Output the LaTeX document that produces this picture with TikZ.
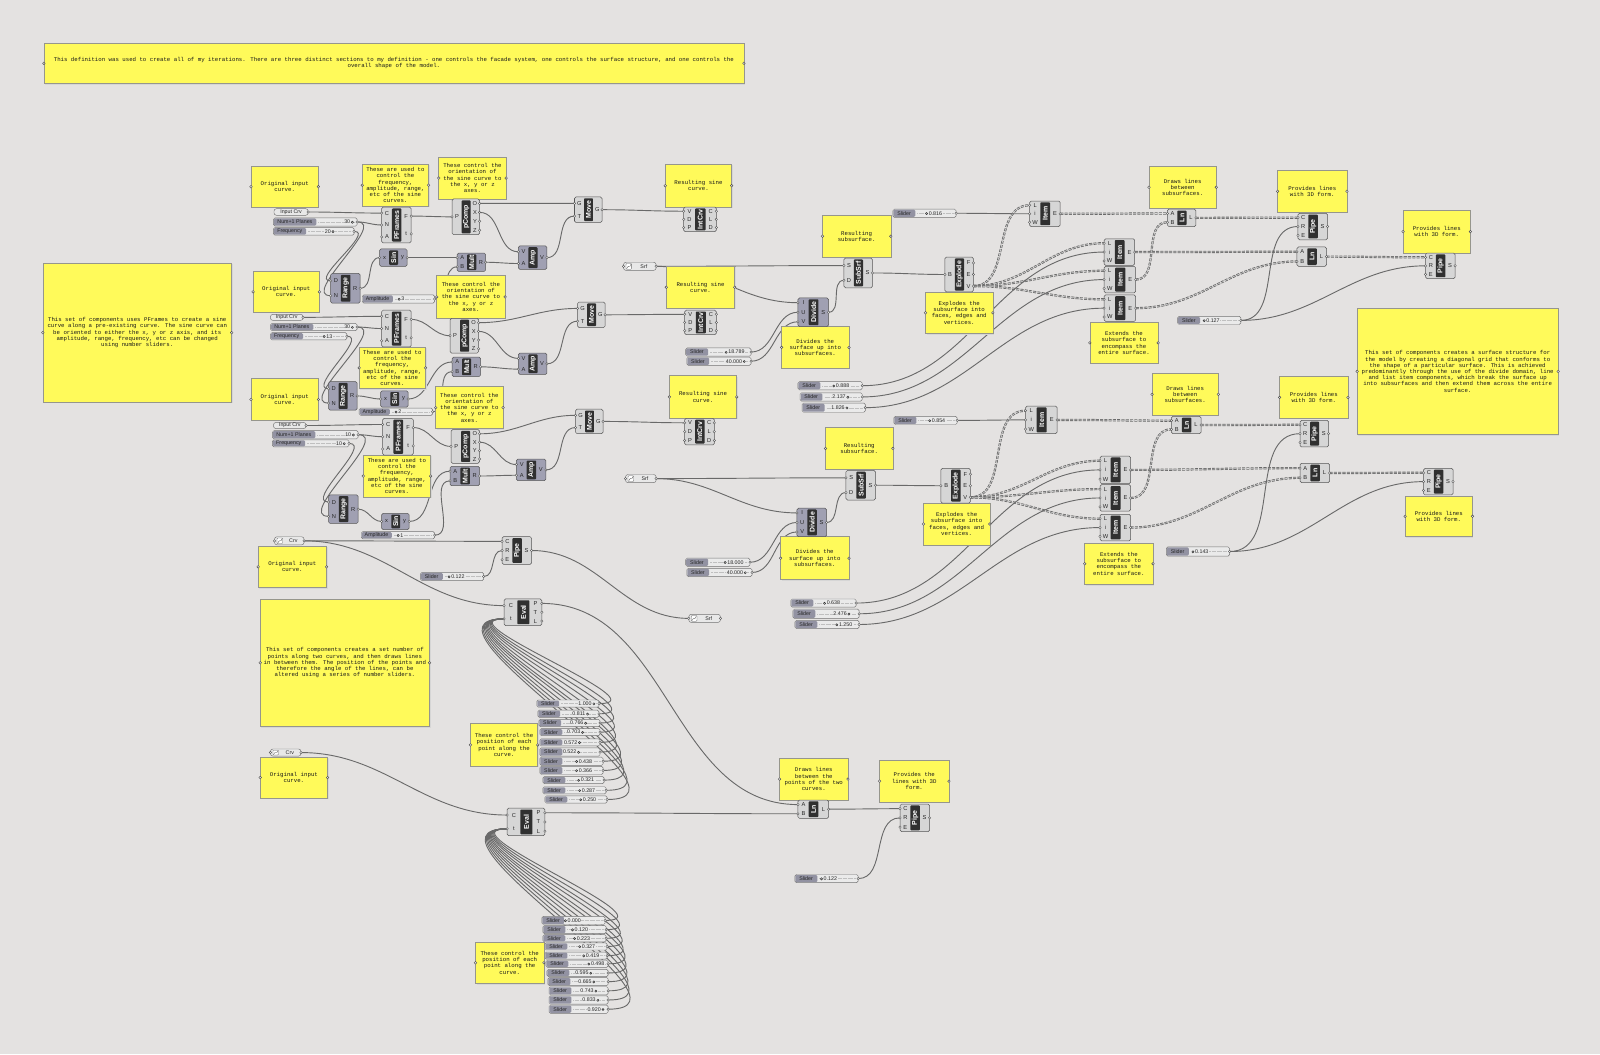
\documentclass[tikz,border=0pt]{standalone}
\usepackage{fontspec}
\setmainfont{Liberation Sans}
\newfontfamily\monof{Liberation Mono}
\usetikzlibrary{calc}
\pgfdeclarelayer{bgl}
\pgfdeclarelayer{wl}
\pgfsetlayers{bgl,wl,main}
\definecolor{bgc}{RGB}{228,226,225}
\definecolor{notey}{RGB}{255,250,90}
\definecolor{noteb}{RGB}{150,150,140}
\definecolor{compl}{RGB}{214,214,214}
\definecolor{compd}{RGB}{160,160,178}
\definecolor{compb}{RGB}{85,85,85}
\definecolor{stripc}{RGB}{48,48,48}
\definecolor{wirec}{RGB}{105,105,105}
\definecolor{sldlab}{RGB}{146,146,162}
\definecolor{sldtrk}{RGB}{234,234,234}
\definecolor{paramc}{RGB}{232,232,232}
\tikzset{
 compbox/.style={draw=compb,line width=0.5pt,rounded corners=1.5pt,inner sep=0pt,outer sep=0pt},
 compname/.style={rotate=90,text=white,font=\bfseries\fontsize{6.8}{6.8}\selectfont,inner sep=0pt},
 portlab/.style={font=\fontsize{5.6}{5.6}\selectfont,text=black!85,inner sep=0pt},
 port/.style={draw=compb,fill=compl!40!white,line width=0.35pt},
 notebox/.style={draw=noteb,fill=notey,line width=0.6pt,inner sep=0pt,outer sep=0pt,align=center,font=\monof\fontsize{5.6}{6.1}\selectfont,text=black!90},
 grip/.style={draw=black!70,fill=bgc,line width=0.4pt},
 sldborder/.style={draw=black!55,line width=0.45pt},
 sldtxt/.style={font=\fontsize{5.2}{5.2}\selectfont,text=black!85,inner sep=0pt},
 sldval/.style={font=\fontsize{5.2}{5.2}\selectfont,text=black!85,inner sep=0.5pt,fill=sldtrk},
 wire/.style={draw=wirec,line width=0.9pt},
 fwire/.style={draw=wirec,line width=0.9pt,looseness=1.3},
 lwire/.style={draw=wirec,line width=0.8pt,double=black!15,double distance=0.55pt,dash pattern=on 3pt off 1.2pt}
}
\newcommand{\kn}{\tikz[baseline=-0.55ex]{\draw[line width=0.5pt,black!80] (0pt,0pt) circle (1.05pt);}}
% component: [fill] id x1 y1 x2 y2 name inputs outputs
\newcommand{\gcomp}[9][compl]{%
  \node[compbox,fill=#1,minimum width={#5-#3},minimum height={#6-#4}] (#2) at ({(#3+#5)/2},{(#4+#6)/2}) {};
  \fill[stripc,rounded corners=0.8pt] ({#3+(#5-#3)*0.35},{#4+1.3}) rectangle ({#3+(#5-#3)*0.67},{#6-1.3});
  \node[compname] (#2-n) at ({#3+(#5-#3)*0.51},{(#4+#6)/2}) {#7};
  \foreach \p [count=\n] in {#8} {\xdef\gnin{\n}}%
  \foreach \p [count=\i] in {#8} {%
    \coordinate (#2-i\i) at (#3,{#4+(\i-0.5)*(#6-#4)/\gnin});
    \node[portlab] at ({#3+(#5-#3)*0.18},{#4+(\i-0.5)*(#6-#4)/\gnin}) {\p};
    \draw[port] (#2-i\i) circle (1.2);
  }%
  \foreach \p [count=\n] in {#9} {\xdef\gnout{\n}}%
  \foreach \p [count=\i] in {#9} {%
    \coordinate (#2-o\i) at (#5,{#4+(\i-0.5)*(#6-#4)/\gnout});
    \node[portlab] at ({#5-(#5-#3)*0.17},{#4+(\i-0.5)*(#6-#4)/\gnout}) {\p};
    \draw[port] (#2-o\i) circle (1.2);
  }%
}
% slider: id x1 y1 x2 y2 label labelright valuex value
\newcommand{\gslider}[9]{%
  \draw[sldborder,fill=sldtrk,rounded corners=1.5pt] (#2,#3) rectangle (#4,#5);
  \fill[sldlab,rounded corners=1.2pt] ({#2+0.5},{#3+0.5}) rectangle (#7,{#5-0.5});
  \draw[black!25,line width=0.3pt,dash pattern=on 0.5pt off 0.7pt] ({#7+2},{(#3+#5)/2}) -- ({#4-3},{(#3+#5)/2});
  \node[sldtxt] (#1-l) at ({(#2+#7)/2},{(#3+#5)/2}) {#6};
  \node[sldval] (#1-v) at (#8,{(#3+#5)/2}) {#9};
  \coordinate (#1) at (#4,{(#3+#5)/2});
  \draw[port] (#1) circle (1.2);
}
% param with icon
\newcommand{\gparam}[6]{%
  \draw[sldborder,fill=paramc,rounded corners=2.5pt] (#2,#3) rectangle (#4,#5);
  \draw[black!60,fill=white,rounded corners=0.8pt,line width=0.3pt] ({#2+2.5},{#3+1.2}) rectangle ({#2+8},{#5-1.2});
  \draw[black!70,line width=0.3pt] ({#2+3.3},{#5-2}) .. controls ({#2+5},{#3+1.5}) and ({#2+6},{#5-1.5}) .. ({#2+7.3},{#3+2});
  \node[sldtxt] (#1-l) at ({(#2+8+#4)/2},{(#3+#5)/2}) {#6};
  \coordinate (#1) at (#4,{(#3+#5)/2});
  \coordinate (#1-in) at (#2,{(#3+#5)/2});
  \draw[port] (#1) circle (1.2); \draw[port] (#1-in) circle (1.2);
}
% param text only
\newcommand{\gparamt}[6]{%
  \draw[sldborder,fill=paramc,rounded corners=2.5pt] (#2,#3) rectangle (#4,#5);
  \node[sldtxt] (#1-l) at ({(#2+#4)/2},{(#3+#5)/2}) {#6};
  \coordinate (#1) at (#4,{(#3+#5)/2});
  \draw[port] (#1) circle (1.2);
}
% note: id x1 y1 x2 y2 text
\newcommand{\gnote}[6]{%
  \fill[black!16] ({#2+1},{#3+1}) rectangle ({#4+1},{#5+1});
  \node[notebox,minimum width={#4-#2},minimum height={#5-#3}] (#1) at ({(#2+#4)/2},{(#3+#5)/2}) {#6};
  \draw[grip] (#1.west) circle (1.3); \draw[grip] (#1.east) circle (1.3);
}
\newcommand{\gw}[3][wire]{\draw[#1] (#2) to[out=0,in=180] (#3);}
\begin{document}
\begin{tikzpicture}[x=1pt,y=-1pt]
\begin{pgfonlayer}{bgl}
\fill[bgc] (0,0) rectangle (1568,1033);
\end{pgfonlayer}
\useasboundingbox (0,0) rectangle (1568,1033);

% ---------- notes ----------
\gnote{nban}{43}{42}{729}{82}{This definition was used to create all of my iterations. There are three distinct sections to my definition - one controls the facade system, one controls the surface structure, and one controls the\\overall shape of the model.}
\gnote{nbig1}{42}{258}{227}{394}{This set of components uses PFrames to create a sine\\curve along a pre-existing curve. The sine curve can\\be oriented to either the x, y or z axis, and its\\amplitude, range, frequency, etc can be changed\\using number sliders.}
\gnote{norig1}{246}{163}{312}{203}{Original input\\curve.}
\gnote{nfreq1}{355}{161}{420}{202}{These are used to\\control the\\frequency,\\amplitude, range,\\etc of the sine\\curves.}
\gnote{nori1}{430}{154}{496}{195}{These control the\\orientation of\\the sine curve to\\the x, y or z\\axes.}
\gnote{norig2}{248}{266}{313}{306}{Original input\\curve.}
\gnote{nori2}{428}{270}{495}{312}{These control the\\orientation of\\the sine curve to\\the x, y or z\\axes.}
\gnote{nfreq2}{352}{340}{417}{381}{These are used to\\control the\\frequency,\\amplitude, range,\\etc of the sine\\curves.}
\gnote{norig3}{246}{371}{312}{412}{Original input\\curve.}
\gnote{nori3}{427}{379}{493}{420}{These control the\\orientation of\\the sine curve to\\the x, y or z\\axes.}
\gnote{nfreq3}{356}{446}{422}{487}{These are used to\\control the\\frequency,\\amplitude, range,\\etc of the sine\\curves.}
\gnote{nres1}{652}{161}{717}{203}{Resulting sine\\curve.}
\gnote{nres2}{653}{261}{720}{302}{Resulting sine\\curve.}
\gnote{nres3}{656}{368}{722}{410}{Resulting sine\\curve.}
\gnote{nsub1}{806}{211}{873}{252}{Resulting\\subsurface.}
\gnote{nexp1}{907}{286}{973}{327}{Explodes the\\subsurface into\\faces, edges and\\vertices.}
\gnote{ndiv1}{766}{320}{832}{361}{Divides the\\surface up into\\subsurfaces.}
\gnote{ndraw1}{1126}{163}{1192}{204}{Draws lines\\between\\subsurfaces.}
\gnote{nprov1}{1252}{167}{1320}{208}{Provides lines\\with 3D form.}
\gnote{nprov2}{1375}{206}{1441}{248}{Provides lines\\with 3D form.}
\gnote{next1}{1068}{316}{1135}{356}{Extends the\\subsurface to\\encompass the\\entire surface.}
\gnote{nbigR}{1330}{302}{1527}{426}{This set of components creates a surface structure for\\the model by creating a diagonal grid that conforms to\\the shape of a particular surface. This is achieved\\predominantly through the use of the divide domain, line\\and list item components, which break the surface up\\into subsurfaces and then extend them across the entire\\surface.}
\gnote{ndraw2}{1129}{366}{1194}{407}{Draws lines\\between\\subsurfaces.}
\gnote{nprov3}{1254}{369}{1321}{410}{Provides lines\\with 3D form.}
\gnote{nsub2}{809}{419}{875}{460}{Resulting\\subsurface.}
\gnote{nexp2}{905}{493}{970}{534}{Explodes the\\subsurface into\\faces, edges and\\vertices.}
\gnote{ndiv2}{765}{526}{832}{568}{Divides the\\surface up into\\subsurfaces.}
\gnote{next2}{1063}{532}{1130}{573}{Extends the\\subsurface to\\encompass the\\entire surface.}
\gnote{nprov4}{1377}{486}{1443}{526}{Provides lines\\with 3D form.}
\gnote{norig4}{253}{535}{320}{576}{Original input\\curve.}
\gnote{nbigL2}{255}{587}{421}{712}{This set of components creates a set number of\\points along two curves, and then draws lines\\in between them. The position of the points and\\therefore the angle of the lines, can be\\altered using a series of number sliders.}
\gnote{npos1}{461}{709}{527}{751}{These control the\\position of each\\point along the\\curve.}
\gnote{norig5}{255}{742}{321}{782}{Original input\\curve.}
\gnote{ndraw3}{764}{743}{831}{784}{Draws lines\\between the\\points of the two\\curves.}
\gnote{nprov5}{862}{745}{930}{786}{Provides the\\lines with 3D\\form.}
\gnote{npos2}{466}{923}{533}{964}{These control the\\position of each\\point along the\\curve.}

% ---------- sine sections ----------
\gparamt{inc1}{268.5}{204.5}{302}{211}{Input Crv}
\gparamt{inc2}{265}{308}{297}{314}{Input Crv}
\gparamt{inc3}{268}{414}{300}{420}{Input Crv}
\gslider{np1}{268}{213.5}{350}{221.5}{Num+1 Planes}{310}{342}{30\,\kn}
\gslider{fq1}{268}{223}{347}{230.5}{Frequency}{300}{323}{20\,\kn}
\gslider{am1}{355}{289}{426}{297}{Amplitude}{385}{393}{\kn\,3}
\gslider{np2}{265}{317}{350}{324}{Num+1 Planes}{307}{342}{30\,\kn}
\gslider{fq2}{265}{326}{340}{333}{Frequency}{297}{321}{\kn\,13}
\gslider{am2}{352}{400}{424}{407}{Amplitude}{382}{390}{\kn\,2}
\gslider{np3}{267}{422}{351}{430}{Num+1 Planes}{309}{343}{10\,\kn}
\gslider{fq3}{267}{431}{342}{438}{Frequency}{299}{334}{10\,\kn}
\gslider{am3}{354}{521}{426}{528}{Amplitude}{384}{392}{\kn\,1}

\gcomp{pf1}{374}{203}{403}{238}{PFrames}{C,N,A}{F,t}
\gcomp{pc1}{443}{195}{470}{230}{pComp}{P}{O,X,Y,Z}
\gcomp[compd]{sin1}{372}{244}{399}{261}{Sin}{x}{y}
\gcomp[compd]{mul1}{448}{248}{476}{266}{Mult}{A,B}{R}
\gcomp[compd]{amp1}{508}{241}{536}{264}{Amp}{V,A}{V}
\gcomp[compd]{rng1}{324}{268}{353}{297}{Range}{D,N}{R}
\gcomp{mov1}{563}{193}{590}{218}{Move}{G,T}{G}
\gcomp{ic1}{670}{203}{702}{227}{IntCrv}{V,D,P}{C,L,D}

\gcomp{pf2}{374}{304}{403}{340}{PFrames}{C,N,A}{F,t}
\gcomp{pc2}{441}{312}{469}{346}{pComp}{P}{O,X,Y,Z}
\gcomp[compd]{sin2}{373}{383}{400}{399}{Sin}{x}{y}
\gcomp[compd]{mul2}{443}{350}{471}{369}{Mult}{A,B}{R}
\gcomp[compd]{amp2}{508}{346}{536}{367}{Amp}{V,A}{V}
\gcomp[compd]{rng2}{322}{374}{350}{402}{Range}{D,N}{R}
\gcomp{mov2}{566}{296}{593}{321}{Move}{G,T}{G}
\gcomp{ic2}{671}{304}{702}{328}{IntCrv}{V,D,P}{C,L,D}

\gcomp{pf3}{375}{410}{405}{446}{PFrames}{C,N,A}{F,t}
\gcomp{pc3}{442}{421}{470}{454}{pComp}{P}{O,X,Y,Z}
\gcomp[compd]{sin3}{374}{503}{401}{519}{Sin}{x}{y}
\gcomp[compd]{mul3}{441}{457}{470}{476}{Mult}{A,B}{R}
\gcomp[compd]{amp3}{506}{450}{535}{471}{Amp}{V,A}{V}
\gcomp[compd]{rng3}{322}{485}{351}{513}{Range}{D,N}{R}
\gcomp{mov3}{564}{401}{591}{425}{Move}{G,T}{G}
\gcomp{ic3}{671}{410}{700}{436}{IntCrv}{V,D,P}{C,L,D}

% ---------- surface section 1 ----------
\gparam{srf1}{611}{257}{643}{265}{Srf}
\gcomp{ss1}{827}{253}{855}{282}{SubSrf}{S,D}{S}
\gcomp{ex1}{926}{252}{954}{286}{Explode}{B}{F,E,V}
\gcomp[compd]{dv1}{782}{292}{812}{320}{Divide}{I,U,V}{S}
\gcomp{it1}{1009}{197}{1039}{222}{Item}{L,i,W}{E}
\gcomp{it2}{1082}{234}{1112}{260}{Item}{L,i,W}{E}
\gcomp{it3}{1082}{261}{1113}{287}{Item}{L,i,W}{E}
\gcomp{it4}{1082}{289}{1113}{315}{Item}{L,i,W}{E}
\gcomp{ln1}{1144}{205}{1172}{222}{Ln}{A,B}{L}
\gcomp{ln2}{1271}{242}{1300}{261}{Ln}{A,B}{L}
\gcomp{pp1}{1272}{209}{1301}{235}{Pipe}{C,R,E}{S}
\gcomp{pp2}{1397}{248}{1426}{273}{Pipe}{C,R,E}{S}
\gslider{s816}{875}{205}{937}{213}{Slider}{897}{915}{\kn\,0.816}
\gslider{s18789}{672}{341}{736}{349}{Slider}{694}{720}{\kn\,18.789}
\gslider{s40a}{673}{350}{736}{358}{Slider}{695}{721}{40.000\,\kn}
\gslider{s888}{782}{374}{845}{382}{Slider}{804}{824}{\kn\,0.888}
\gslider{s2137}{784}{385}{845}{393}{Slider}{806}{824}{2.137\,\kn}
\gslider{s1826}{786}{395}{848}{404}{Slider}{808}{823}{1.826\,\kn}
\gslider{s127}{1154}{310}{1216}{318}{Slider}{1176}{1187}{\kn\,0.127}

% ---------- surface section 2 ----------
\gparam{srf2}{613}{465}{643}{473}{Srf}
\gcomp{ss2}{829}{461}{858}{490}{SubSrf}{S,D}{S}
\gcomp{ex2}{922}{459}{951}{493}{Explode}{B}{F,E,V}
\gcomp[compd]{dv2}{781}{498}{810}{526}{Divide}{I,U,V}{S}
\gcomp{it5}{1005}{398}{1036}{425}{Item}{L,i,W}{E}
\gcomp{it6}{1078}{447}{1108}{474}{Item}{L,i,W}{E}
\gcomp{it7}{1078}{475}{1108}{501}{Item}{L,i,W}{E}
\gcomp{it8}{1078}{504}{1108}{530}{Item}{L,i,W}{E}
\gcomp{ln3}{1148}{408}{1177}{425}{Ln}{A,B}{L}
\gcomp{ln4}{1274}{454}{1303}{473}{Ln}{A,B}{L}
\gcomp{pp3}{1274}{412}{1302}{438}{Pipe}{C,R,E}{S}
\gcomp{pp4}{1395}{459}{1424}{485}{Pipe}{C,R,E}{S}
\gslider{s854}{876}{408}{938}{416}{Slider}{898}{918}{\kn\,0.854}
\gslider{s18000}{672}{547}{735}{555}{Slider}{694}{719}{\kn\,18.000}
\gslider{s40b}{673}{557}{737}{565}{Slider}{695}{722}{40.000\,\kn}
\gslider{s638}{775}{587}{839}{595}{Slider}{797}{815}{\kn\,0.638}
\gslider{s2476}{777}{597}{842}{606}{Slider}{799}{825}{2.476\,\kn}
\gslider{s1250}{779}{608}{842}{616}{Slider}{801}{827}{\kn\,1.250}
\gslider{s143}{1143}{536}{1205}{545}{Slider}{1165}{1176}{\kn\,0.143}

% ---------- lower section ----------
\gparam{crv1}{269}{526}{298}{534}{Crv}
\gcomp{pp5}{492}{526}{521}{553}{Pipe}{C,R,E}{S}
\gslider{s122a}{412}{561}{474}{569}{Slider}{434}{447}{\kn\,0.122}
\gparam{srf3}{675}{602}{706}{610}{Srf}
\gcomp{ev1}{494}{587}{531}{613}{Eval}{C,t}{P,T,L}
\gparam{crv2}{265}{734}{295}{741}{Crv}
\gcomp{ev2}{497}{792}{534}{819}{Eval}{C,t}{P,T,L}
\gcomp{ln5}{782}{784}{812}{802}{Ln}{A,B}{L}
\gcomp{pp6}{882}{788}{911}{815}{Pipe}{C,R,E}{S}
\gslider{s122b}{779}{857}{841}{865}{Slider}{801}{812}{\kn\,0.122}

\foreach \xa/\ya/\xb/\yb/\vx/\vt [count=\k] in {
 526/686/587/693/575/1.000\,\kn,
 527/696/587/703/569/0.811\,\kn,
 528/705/588/712/567/0.766\,\kn,
 529/714/588/721/564/0.703\,\kn,
 529/724/588/731/561/0.572\,\kn,
 529/733/588/741/560/0.522\,\kn,
 529/742/591/750/572/\kn\,0.438,
 529/751/591/759/572/\kn\,0.366,
 532/761/592/768/574/\kn\,0.321,
 532/771/594/778/575/\kn\,0.287,
 534/780/595/787/576/\kn\,0.250}
 {\gslider{ea\k}{\xa}{\ya}{\xb}{\yb}{Slider}{\xa+22}{\vx}{\vt}}
\foreach \xa/\ya/\xb/\yb/\vx/\vt [count=\k] in {
 531/898/593/906/561/\kn\,0.000,
 532/907/594/915/568/\kn\,0.120,
 532/916/594/923/570/\kn\,0.223,
 534/924/595/931/575/\kn\,0.327,
 534/933/595/940/579/\kn\,0.419,
 535/941/596/948/584/\kn\,0.498,
 536/950/596/957/572/0.595\,\kn,
 537/958/596/966/575/0.665\,\kn,
 538/967/596/975/577/0.743\,\kn,
 538/976/596/984/579/0.833\,\kn,
 538/985/596/993/584/0.920\,\kn}
 {\gslider{eb\k}{\xa}{\ya}{\xb}{\yb}{Slider}{\xa+22}{\vx}{\vt}}

% ---------- wires ----------
\begin{pgfonlayer}{wl}
\foreach \s in {1,2,3}{
 \gw{inc\s}{pf\s-i1}
 \gw{np\s}{pf\s-i2}
 \gw{np\s}{rng\s-i2}
 \gw{fq\s}{rng\s-i1}
 \gw{pf\s-o1}{pc\s-i1}
 \gw{rng\s-o1}{sin\s-i1}
 \gw{sin\s-o1}{mul\s-i1}
 \gw{am\s}{mul\s-i2}
 \gw{mul\s-o1}{amp\s-i2}
 \gw{pc\s-o2}{amp\s-i1}
 \gw{pc\s-o1}{mov\s-i1}
 \gw{amp\s-o1}{mov\s-i2}
 \gw{mov\s-o1}{ic\s-i1}
}
\gw{srf1}{ss1-i1} \gw{srf1}{dv1-i1} \gw{s18789}{dv1-i2} \gw{s40a}{dv1-i3}
\gw{dv1-o1}{ss1-i2} \gw{ss1-o1}{ex1-i1}
\foreach \k in {1,2,3,4}{\gw[lwire]{ex1-o3}{it\k-i1}}
\gw{s816}{it1-i2} \gw{s888}{it2-i2} \gw{s2137}{it3-i2} \gw{s1826}{it4-i2}
\gw[lwire]{it1-o1}{ln1-i1} \gw[lwire]{it3-o1}{ln1-i2}
\gw[lwire]{it2-o1}{ln2-i1} \gw[lwire]{it4-o1}{ln2-i2}
\gw[lwire]{ln1-o1}{pp1-i1} \gw[lwire]{ln2-o1}{pp2-i1}
\gw{s127}{pp1-i2} \gw{s127}{pp2-i2}

\gw{srf2}{ss2-i1} \gw{srf2}{dv2-i1} \gw{s18000}{dv2-i2} \gw{s40b}{dv2-i3}
\gw{dv2-o1}{ss2-i2} \gw{ss2-o1}{ex2-i1}
\foreach \k in {5,6,7,8}{\gw[lwire]{ex2-o3}{it\k-i1}}
\gw{s854}{it5-i2} \gw{s638}{it6-i2} \gw{s2476}{it7-i2} \gw{s1250}{it8-i2}
\gw[lwire]{it5-o1}{ln3-i1} \gw[lwire]{it7-o1}{ln3-i2}
\gw[lwire]{it6-o1}{ln4-i1} \gw[lwire]{it8-o1}{ln4-i2}
\gw[lwire]{ln3-o1}{pp3-i1} \gw[lwire]{ln4-o1}{pp4-i1}
\gw{s143}{pp3-i2} \gw{s143}{pp4-i2}

\gw{crv1}{pp5-i1} \gw{crv1}{ev1-i1} \gw{s122a}{pp5-i2} \gw{pp5-o1}{srf3-in}
\foreach \k in {1,...,11}{\gw[fwire]{ea\k}{ev1-i2}}
\gw{ev1-o1}{ln5-i1}
\gw{crv2}{ev2-i1}
\foreach \k in {1,...,11}{\gw[fwire]{eb\k}{ev2-i2}}
\gw{ev2-o1}{ln5-i2} \gw{ln5-o1}{pp6-i1} \gw{s122b}{pp6-i2}
\end{pgfonlayer}
\end{tikzpicture}
\end{document}
